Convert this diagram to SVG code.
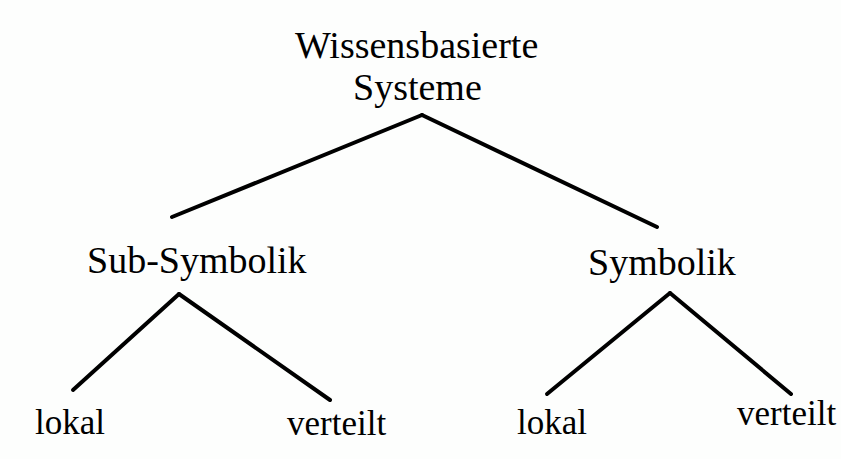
<svg xmlns="http://www.w3.org/2000/svg" width="841" height="459" viewBox="0 0 841 459">
  <style>
    .lbl { font-family: "Liberation Serif", "Times New Roman", serif; fill: #000; }
    .edge { stroke: #000; stroke-width: 4; stroke-linecap: round; fill: none; }
  </style>
  <rect width="841" height="459" fill="#fdfefd"/>
  <g id="connectors">
    <line class="edge" x1="422" y1="115" x2="172" y2="217"/>
    <line class="edge" x1="422" y1="115" x2="657" y2="227"/>
    <line class="edge" x1="179" y1="294" x2="73" y2="390"/>
    <line class="edge" x1="179" y1="294" x2="330" y2="400"/>
    <line class="edge" x1="670" y1="293" x2="547" y2="394"/>
    <line class="edge" x1="670" y1="293" x2="791" y2="394"/>
  </g>
  <g id="root">
    <text class="lbl" x="295" y="58" font-size="38">Wissensbasierte</text>
    <text class="lbl" x="353" y="100" font-size="38">Systeme</text>
  </g>
  <g id="subsymbolik">
    <text class="lbl" x="87" y="273" font-size="38">Sub-Symbolik</text>
  </g>
  <g id="symbolik">
    <text class="lbl" x="588" y="275" font-size="38">Symbolik</text>
  </g>
  <g id="sub-lokal">
    <text class="lbl" x="35" y="434" font-size="35">lokal</text>
  </g>
  <g id="sub-verteilt">
    <text class="lbl" x="287" y="435" font-size="35">verteilt</text>
  </g>
  <g id="sym-lokal">
    <text class="lbl" x="517" y="434" font-size="35">lokal</text>
  </g>
  <g id="sym-verteilt">
    <text class="lbl" x="737" y="425" font-size="35">verteilt</text>
  </g>
</svg>
